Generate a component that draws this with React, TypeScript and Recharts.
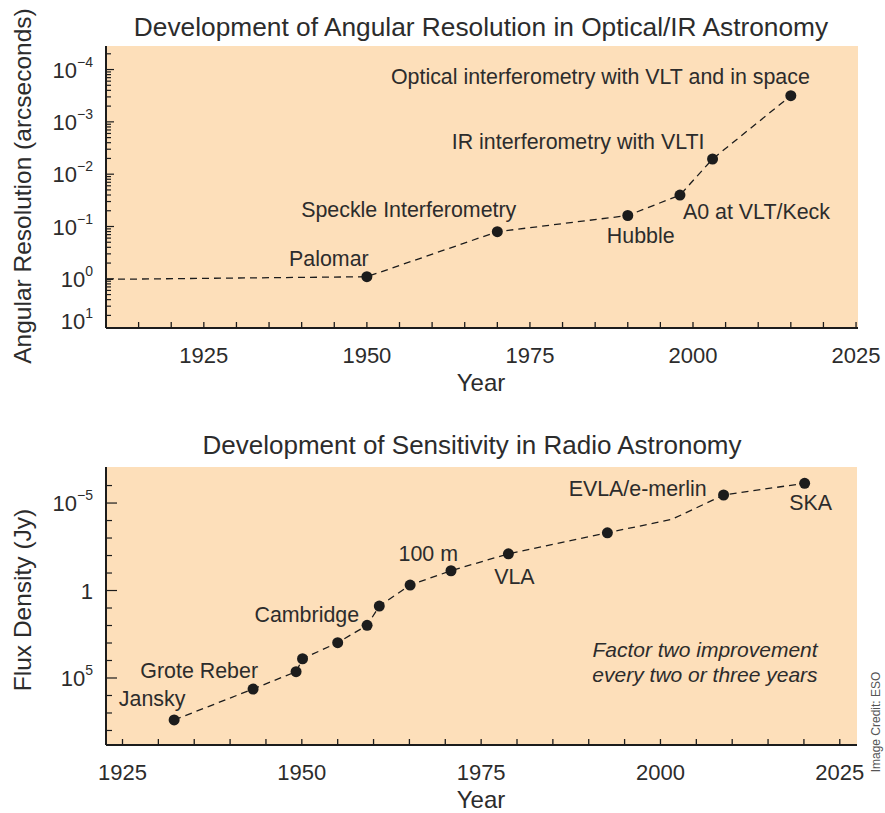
import React from 'react';
import { LineChart, Line, XAxis, YAxis, CartesianGrid, LabelList } from 'recharts';

// Angular resolution (log10 of arcseconds) over time
const resYears = [1910, 1950, 1970, 1990, 1998, 2003, 2015];
const resLog = [0.01, -0.04, -0.9, -1.21, -1.6, -2.29, -3.5];
const resMarked = [false, true, true, true, true, true, true];
const resNames = [
  '',
  'Palomar',
  'Speckle Interferometry',
  'Hubble',
  'A0 at VLT/Keck',
  'IR interferometry with VLTI',
  'Optical interferometry with VLT and in space',
];
const resTickValues = [-4, -3, -2, -1, 0, 0.8];
const resTickExp = ['−4', '−3', '−2', '−1', '0', '1'];

// Radio sensitivity (log10 of Jy) over time
const fluxYears = [1932.2, 1943.2, 1949.2, 1950.1, 1955, 1959.1, 1960.8, 1965.1, 1970.8, 1978.8, 1992.6, 2001.6, 2008.8, 2020.1];
const fluxLog = [7.4, 5.63, 4.64, 3.9, 2.98, 1.99, 0.89, -0.31, -1.13, -2.1, -3.3, -4.07, -5.46, -6.13];
const fluxMarked = [true, true, true, true, true, true, true, true, true, true, true, false, true, true];
const fluxNames = ['Jansky', 'Grote Reber', '', '', '', 'Cambridge', '', '', '100 m', 'VLA', '', '', 'EVLA/e-merlin', 'SKA'];
const fluxMajor = [-5, 0, 5];
const fluxMajorLabels = [['10', '−5'], ['1', ''], ['10', '5']];

const yearLabels = [1925, 1950, 1975, 2000, 2025];

const FONT = '"Liberation Sans", Arial, sans-serif';
const INK = '#2c2c2c';
const PEACH = '#FDDFBA';

const resData = resYears.map((year, i) => ({ year, v: resLog[i], marked: resMarked[i], name: resNames[i] }));
const fluxData = fluxYears.map((year, i) => ({ year, v: fluxLog[i], marked: fluxMarked[i], name: fluxNames[i] }));

// minor ticks for the top log axis (2..9 within each decade)
const resMinor: number[] = [];
for (let e = -5; e <= 0; e++) {
  for (let k = 2; k <= 9; k++) {
    const t = e + Math.log10(10 / k);
    if (t > -4.45 && t < 0.94) resMinor.push(t);
  }
}
const resTicks = [...resTickValues.slice(0, 5), ...resMinor, resTickValues[5]];
const fluxTicks = [-6, -5, -4, -3, -2, -1, 0, 1, 2, 3, 4, 5, 6, 7, 8];
const resXTicks = [1915, 1920, 1925, 1930, 1935, 1940, 1945, 1950, 1955, 1960, 1965, 1970, 1975, 1980, 1985, 1990, 1995, 2000, 2005, 2010, 2015, 2020, 2025];
const fluxXTicks = resXTicks.slice(2);

const resLabelPos: Record<string, { dx: number; dy: number; anchor: 'start' | 'middle' | 'end' }> = {
  'Palomar': { dx: -38, dy: -18, anchor: 'middle' },
  'Speckle Interferometry': { dx: 19, dy: -22, anchor: 'end' },
  'Hubble': { dx: 13, dy: 20, anchor: 'middle' },
  'A0 at VLT/Keck': { dx: 3, dy: 17, anchor: 'start' },
  'IR interferometry with VLTI': { dx: -8, dy: -17, anchor: 'end' },
  'Optical interferometry with VLT and in space': { dx: 19, dy: -19, anchor: 'end' },
};
const fluxLabelPos: Record<string, { dx: number; dy: number; anchor: 'start' | 'middle' | 'end' }> = {
  'Jansky': { dx: -22, dy: -21, anchor: 'middle' },
  'Grote Reber': { dx: 5, dy: -18, anchor: 'end' },
  'Cambridge': { dx: -8, dy: -10, anchor: 'end' },
  '100 m': { dx: 7, dy: -17, anchor: 'end' },
  'VLA': { dx: 6, dy: 23, anchor: 'middle' },
  'EVLA/e-merlin': { dx: -17, dy: -6, anchor: 'end' },
  'SKA': { dx: 6, dy: 20, anchor: 'middle' },
};

const makeLabel = (pos: typeof resLabelPos) => (props: any) => {
  const { x, y, value } = props;
  if (!value) return null;
  const p = pos[value];
  return (
    <text x={x + p.dx} y={y + p.dy} textAnchor={p.anchor} dominantBaseline="central"
      fontFamily={FONT} fontSize={21.4} fill={INK}>
      {value}
    </text>
  );
};

const renderDot = (props: any) => {
  const { cx, cy, payload, index } = props;
  if (!payload.marked) return <g key={index} />;
  return <circle key={index} cx={cx} cy={cy} r={5.5} fill="#1c1c1c" />;
};

const XTick = (props: any) => {
  const { x, y, payload } = props;
  const v = payload.value;
  return (
    <g>
      <line x1={x} x2={x} y1={y} y2={y - 6} stroke="#1c1c1c" strokeWidth={1.3} />
      {yearLabels.includes(v) && (
        <text x={x} y={y + 27} textAnchor="middle" dominantBaseline="central"
          fontFamily={FONT} fontSize={22} fill={INK}>
          {v}
        </text>
      )}
    </g>
  );
};

const ResYTick = (props: any) => {
  const { x, y, payload } = props;
  const idx = resTickValues.indexOf(payload.value);
  const major = idx >= 0 && idx < 5;
  return (
    <g>
      {idx !== 5 && (
        <line x1={x} x2={x + (major ? 8 : 5)} y1={y} y2={y} stroke="#1c1c1c" strokeWidth={1.2} />
      )}
      {idx >= 0 && (
        <text x={x - 13} y={y + 8} textAnchor="end" fontFamily={FONT} fontSize={22} fill={INK}>
          <tspan>10</tspan>
          <tspan fontSize={14} dy={-11}>{resTickExp[idx]}</tspan>
        </text>
      )}
    </g>
  );
};

const FluxYTick = (props: any) => {
  const { x, y, payload } = props;
  const idx = fluxMajor.indexOf(payload.value);
  const major = idx >= 0;
  return (
    <g>
      <line x1={x} x2={x + (major ? 11 : 6)} y1={y} y2={y} stroke="#1c1c1c" strokeWidth={1.2} />
      {major && (
        <text x={x - 13} y={y + 8} textAnchor="end" fontFamily={FONT} fontSize={22} fill={INK}>
          <tspan>{fluxMajorLabels[idx][0]}</tspan>
          {fluxMajorLabels[idx][1] && <tspan fontSize={14} dy={-11}>{fluxMajorLabels[idx][1]}</tspan>}
        </text>
      )}
    </g>
  );
};

const axisLine = { stroke: '#1c1c1c', strokeWidth: 2 };

export default function App() {
  return (
    <div style={{ position: 'absolute', left: 0, top: 0, width: 885, height: 813, background: '#fff' }}>
      <div style={{ position: 'absolute', left: 0, top: 0 }}>
        <LineChart width={885} height={400} data={resData}
          margin={{ top: 46, right: 27, bottom: 42, left: 0 }}>
          <CartesianGrid horizontal={false} vertical={false} fill={PEACH} stroke="none" />
          <XAxis dataKey="year" type="number" domain={[1910, 2025.3]} ticks={resXTicks} interval={0}
            allowDataOverflow height={30} tickSize={0} tickMargin={0} tickLine={false}
            axisLine={axisLine} tick={<XTick />} />
          <YAxis dataKey="v" type="number" reversed domain={[-4.45, 0.94]} ticks={resTicks} interval={0}
            allowDataOverflow width={106} tickSize={0} tickMargin={0} tickLine={false}
            axisLine={axisLine} tick={<ResYTick />} />
          <Line type="linear" dataKey="v" stroke="#1c1c1c" strokeWidth={1.3} strokeDasharray="7 5"
            dot={renderDot} activeDot={false} isAnimationActive={false}>
            <LabelList dataKey="name" content={makeLabel(resLabelPos)} />
          </Line>
        </LineChart>
      </div>
      <div style={{ position: 'absolute', left: 0, top: 420 }}>
        <LineChart width={885} height={393} data={fluxData}
          margin={{ top: 47, right: 28, bottom: 38, left: 0 }}>
          <CartesianGrid horizontal={false} vertical={false} fill={PEACH} stroke="none" />
          <XAxis dataKey="year" type="number" domain={[1922.7, 2027.4]} ticks={fluxXTicks} interval={0}
            allowDataOverflow height={30} tickSize={0} tickMargin={0} tickLine={false}
            axisLine={axisLine} tick={<XTick />} />
          <YAxis dataKey="v" type="number" reversed domain={[-7.06, 8.83]} ticks={fluxTicks} interval={0}
            allowDataOverflow width={106} tickSize={0} tickMargin={0} tickLine={false}
            axisLine={axisLine} tick={<FluxYTick />} />
          <Line type="linear" dataKey="v" stroke="#1c1c1c" strokeWidth={1.3} strokeDasharray="7 5"
            dot={renderDot} activeDot={false} isAnimationActive={false}>
            <LabelList dataKey="name" content={makeLabel(fluxLabelPos)} />
          </Line>
        </LineChart>
      </div>
      <svg width={885} height={813} style={{ position: 'absolute', left: 0, top: 0, pointerEvents: 'none' }}
        fontFamily={FONT} fill={INK}>
        <text x={481} y={27} textAnchor="middle" dominantBaseline="central" fontSize={26.3}>
          Development of Angular Resolution in Optical/IR Astronomy
        </text>
        <text x={481} y={382} textAnchor="middle" dominantBaseline="central" fontSize={24}>Year</text>
        <text transform="translate(22,186) rotate(-90)" textAnchor="middle" dominantBaseline="central" fontSize={24.5}>
          Angular Resolution (arcseconds)
        </text>
        <text x={472} y={445} textAnchor="middle" dominantBaseline="central" fontSize={26}>
          Development of Sensitivity in Radio Astronomy
        </text>
        <text x={481} y={799} textAnchor="middle" dominantBaseline="central" fontSize={24}>Year</text>
        <text transform="translate(22,600) rotate(-90)" textAnchor="middle" dominantBaseline="central" fontSize={24.5}>
          Flux Density (Jy)
        </text>
        <text x={705} y={649} textAnchor="middle" dominantBaseline="central" fontSize={21} fontStyle="italic">
          Factor two improvement
        </text>
        <text x={705} y={674} textAnchor="middle" dominantBaseline="central" fontSize={21} fontStyle="italic">
          every two or three years
        </text>
        <text transform="translate(876,722) rotate(-90)" textAnchor="middle" dominantBaseline="central"
          fontSize={12} fill="#555">
          Image Credit: ESO
        </text>
      </svg>
    </div>
  );
}
